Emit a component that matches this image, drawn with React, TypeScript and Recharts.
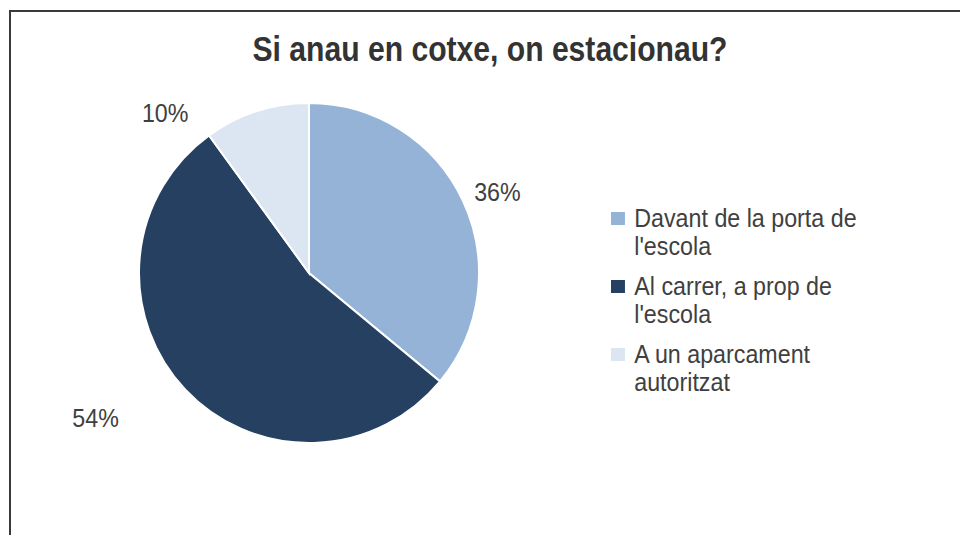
import React from 'react';
import { PieChart, Pie, Cell, Legend } from 'recharts';

const TITLE = 'Si anau en cotxe, on estacionau?';
const CATEGORIES = ["Davant de la porta de l'escola", "Al carrer, a prop de l'escola", 'A un aparcament autoritzat'];
const VALUES = [36, 54, 10];

const COLORS = ['#95B3D7', '#254061', '#DCE6F2'];
// label placement tweaks (radius, angle shift) to mimic the best-fit labels
const LABEL_RADIUS = [205, 258, 215];
const LABEL_SHIFT = [-2, -9, 24];

const FONT = '"Liberation Sans", Arial, sans-serif';

const chartData = CATEGORIES.map((name, i) => ({ name, value: VALUES[i] }));

const RADIAN = Math.PI / 180;

const renderLabel = (props: any) => {
  const { cx, cy, midAngle, index, percent } = props;
  const a = (midAngle + LABEL_SHIFT[index]) * RADIAN;
  const x = cx + LABEL_RADIUS[index] * Math.cos(a);
  const y = cy - LABEL_RADIUS[index] * Math.sin(a);
  return (
    <text
      transform={`translate(${x},${y}) scale(0.93,1)`}
      fill="#404040"
      fontSize={25}
      fontFamily={FONT}
      textAnchor="middle"
      dominantBaseline="central"
    >
      {`${Math.round(percent * 100)}%`}
    </text>
  );
};

const renderLegend = () => (
  <div
    style={{
      fontFamily: FONT,
      fontSize: 25,
      color: '#404040',
      lineHeight: '28px',
      transform: 'scaleX(0.93)',
      transformOrigin: 'left top',
    }}
  >
    {chartData.map((d, i) => (
      <div key={d.name} style={{ display: 'flex', alignItems: 'flex-start', marginBottom: 12 }}>
        <span style={{ width: 15, height: 13, background: COLORS[i], marginTop: 8, marginRight: 10, flexShrink: 0 }} />
        <span style={{ width: 255 }}>{d.name}</span>
      </div>
    ))}
  </div>
);

const App: React.FC = () => {
  return (
    <div style={{ position: 'absolute', left: 9, top: 10, width: 960, height: 540, border: '2px solid #3a3a3a', background: '#fff' }}>
      <div
        style={{
          position: 'absolute',
          left: 0,
          top: 17,
          width: 958,
          textAlign: 'center',
          fontFamily: FONT,
          fontWeight: 'bold',
          fontSize: 35,
          color: '#333',
          transform: 'scaleX(0.86)',
          transformOrigin: '479px 0',
          zIndex: 1,
        }}
      >
        {TITLE}
      </div>
      <PieChart width={958} height={530} margin={{ top: 0, right: 0, bottom: 0, left: 0 }}>
        <Pie
          data={chartData}
          dataKey="value"
          nameKey="name"
          cx={298}
          cy={261}
          outerRadius={170}
          startAngle={90}
          endAngle={-270}
          stroke="#fff"
          strokeWidth={2}
          labelLine={false}
          label={renderLabel}
          isAnimationActive={false}
        >
          {chartData.map((entry, index) => (
            <Cell key={`cell-${index}`} fill={COLORS[index]} />
          ))}
        </Pie>
        <Legend content={renderLegend} wrapperStyle={{ left: 600, top: 192, width: 290 }} />
      </PieChart>
    </div>
  );
};

export default App;
